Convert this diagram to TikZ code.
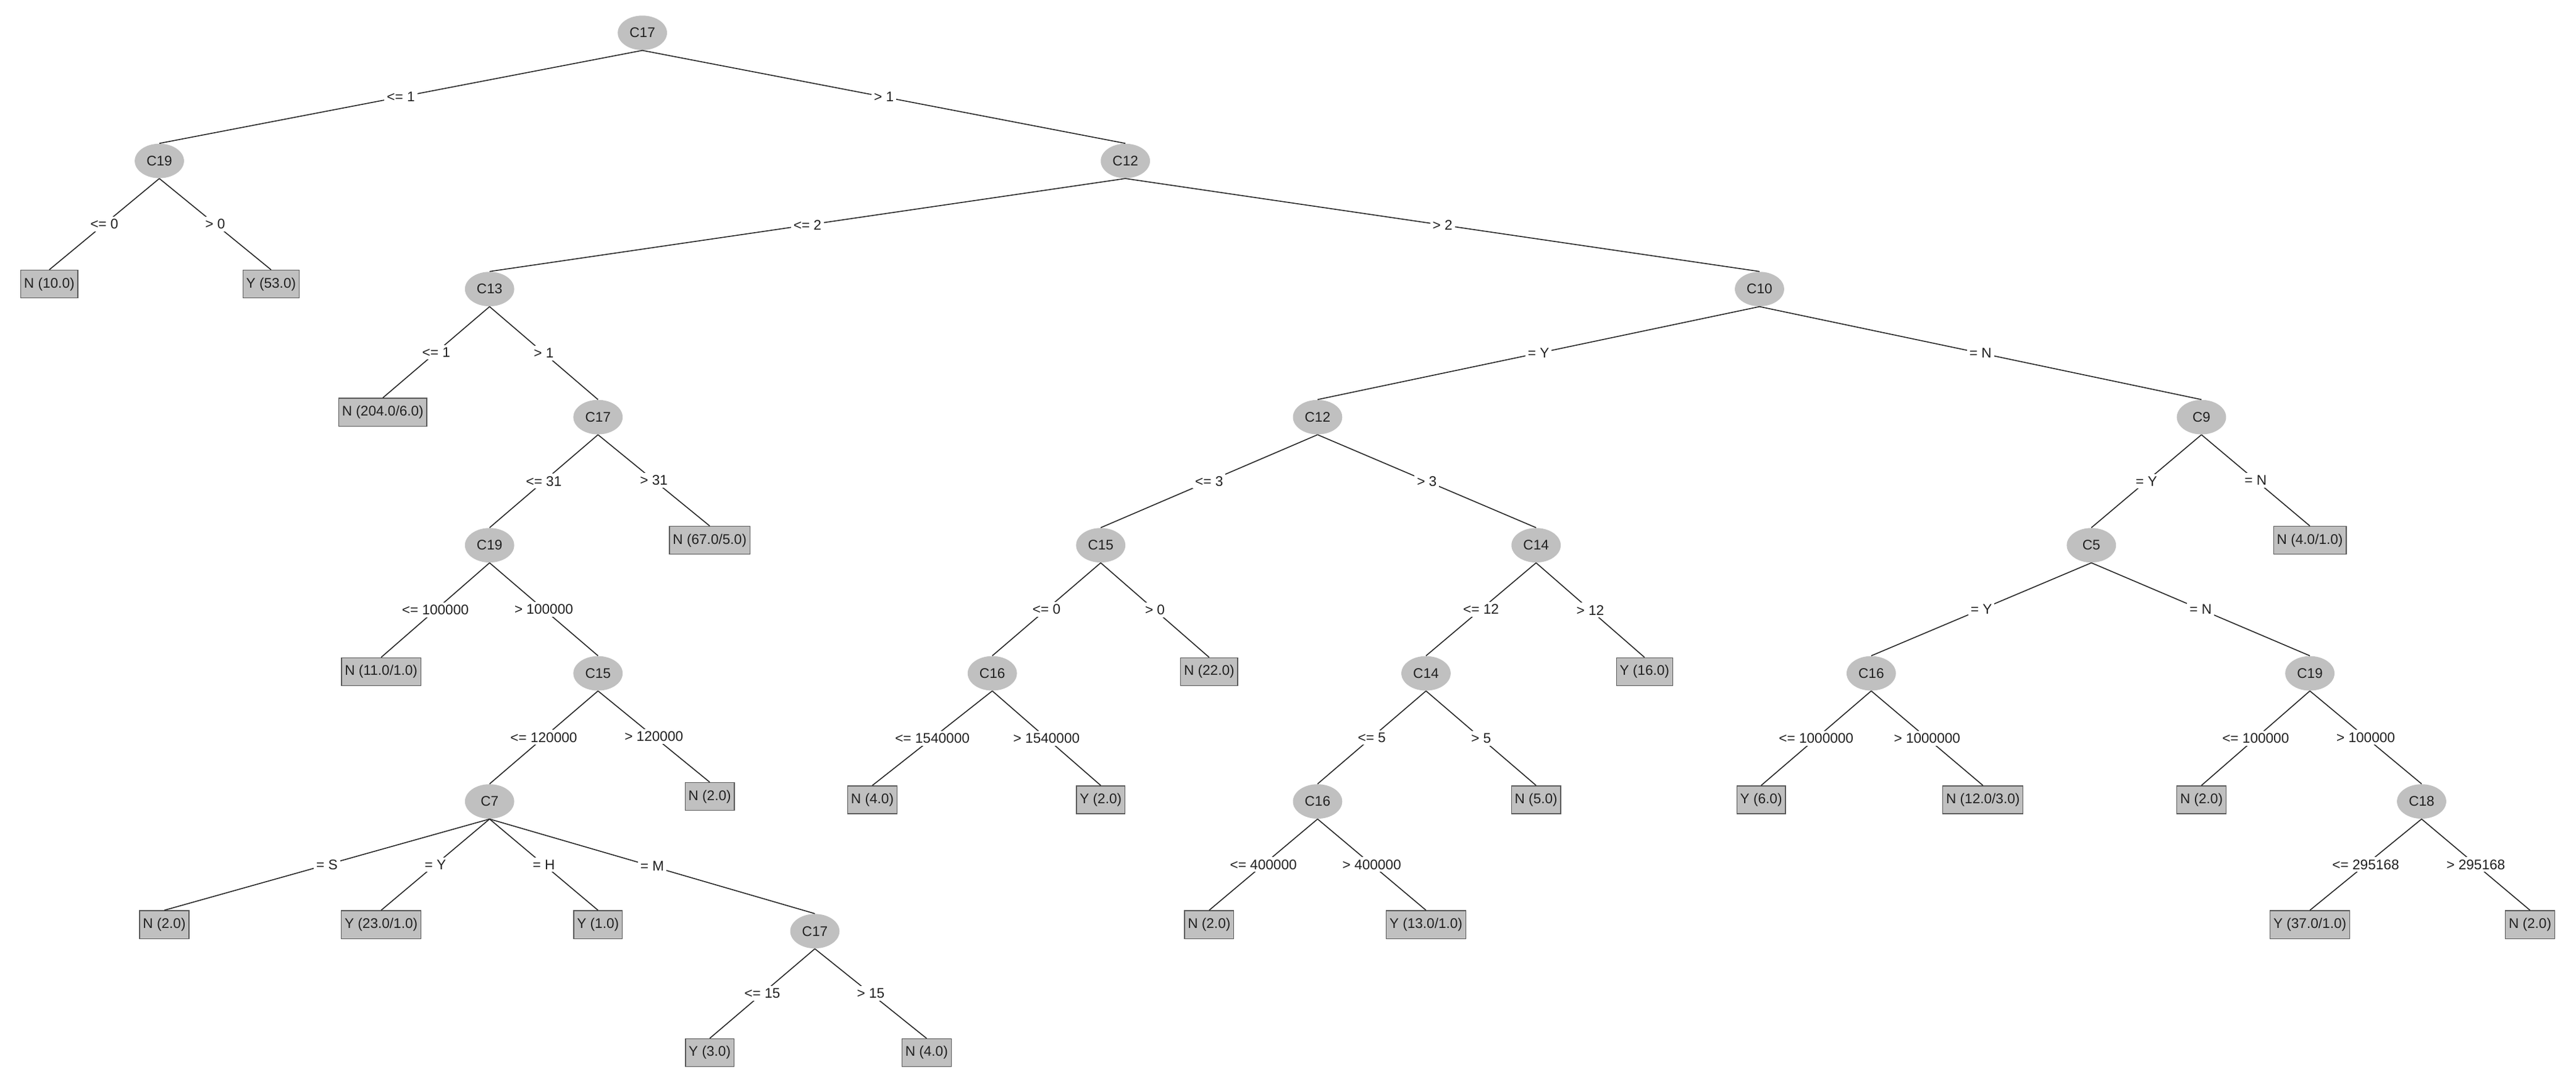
\documentclass[tikz,border=0pt]{standalone}
\usepackage{fontspec}
\setmainfont{Liberation Sans}
\usetikzlibrary{shapes.geometric}
\definecolor{ng}{HTML}{C0C0C0}
\definecolor{txt}{HTML}{202020}
\begin{document}
\begin{tikzpicture}[x=1pt,y=-1pt,
  inner/.style={ellipse,fill=ng,minimum width=30pt,minimum height=21pt,inner sep=0pt,font=\fontsize{8.5}{9}\selectfont,text=txt},
  leaf/.style={rectangle,fill=ng,draw=gray!70!black,line width=0.5pt,minimum height=17pt,inner sep=2pt,font=\fontsize{8.5}{9}\selectfont,text=txt},
  lab/.style={fill=white,inner sep=1.5pt,font=\fontsize{8.5}{9}\selectfont,text=txt,midway},
  e/.style={draw=black!85,line width=0.6pt}]
\useasboundingbox (0,0) rectangle (1568,661);
\node[inner] (r) at (391,20) {C17};
\node[inner] (a) at (97,98) {C19};
\node[leaf] (a1) at (30,173) {N (10.0)};
\node[leaf] (a2) at (165,173) {Y (53.0)};
\node[inner] (b) at (685,98) {C12};
\node[inner] (c) at (298,176) {C13};
\node[leaf] (c1) at (233,251) {N (204.0/6.0)};
\node[inner] (d) at (364,254) {C17};
\node[inner] (f) at (298,332) {C19};
\node[leaf] (d2) at (432,329) {N (67.0/5.0)};
\node[leaf] (f1) at (232,409) {N (11.0/1.0)};
\node[inner] (g) at (364,410) {C15};
\node[inner] (h) at (298,488) {C7};
\node[leaf] (g2) at (432,485) {N (2.0)};
\node[leaf] (h1) at (100,563) {N (2.0)};
\node[leaf] (h2) at (232,563) {Y (23.0/1.0)};
\node[leaf] (h3) at (364,563) {Y (1.0)};
\node[inner] (i) at (496,567) {C17};
\node[leaf] (i1) at (432,641) {Y (3.0)};
\node[leaf] (i2) at (564,641) {N (4.0)};
\node[inner] (j) at (1071,176) {C10};
\node[inner] (k) at (802,254) {C12};
\node[inner] (l) at (1340,254) {C9};
\node[inner] (m) at (670,332) {C15};
\node[inner] (n) at (935,332) {C14};
\node[inner] (o) at (604,410) {C16};
\node[leaf] (m2) at (736,409) {N (22.0)};
\node[inner] (p) at (868,410) {C14};
\node[leaf] (n2) at (1001,409) {Y (16.0)};
\node[leaf] (o1) at (531,487) {N (4.0)};
\node[leaf] (o2) at (670,487) {Y (2.0)};
\node[inner] (q) at (802,488) {C16};
\node[leaf] (p2) at (935,487) {N (5.0)};
\node[leaf] (q1) at (736,563) {N (2.0)};
\node[leaf] (q2) at (868,563) {Y (13.0/1.0)};
\node[inner] (s) at (1273,332) {C5};
\node[leaf] (l2) at (1406,329) {N (4.0/1.0)};
\node[inner] (t) at (1139,410) {C16};
\node[inner] (u) at (1406,410) {C19};
\node[leaf] (t1) at (1072,487) {Y (6.0)};
\node[leaf] (t2) at (1207,487) {N (12.0/3.0)};
\node[leaf] (u1) at (1340,487) {N (2.0)};
\node[inner] (v) at (1474,488) {C18};
\node[leaf] (v1) at (1406,563) {Y (37.0/1.0)};
\node[leaf] (v2) at (1540,563) {N (2.0)};
\foreach \p/\c/\t in {r/a/{<= 1},r/b/{> 1},a/a1/{<= 0},a/a2/{> 0},b/c/{<= 2},b/j/{> 2},
  c/c1/{<= 1},c/d/{> 1},d/f/{<= 31},d/d2/{> 31},f/f1/{<= 100000},f/g/{> 100000},
  g/h/{<= 120000},g/g2/{> 120000},h/h1/{= S},h/h2/{= Y},h/h3/{= H},h/i/{= M},
  i/i1/{<= 15},i/i2/{> 15},j/k/{= Y},j/l/{= N},k/m/{<= 3},k/n/{> 3},
  m/o/{<= 0},m/m2/{> 0},n/p/{<= 12},n/n2/{> 12},o/o1/{<= 1540000},o/o2/{> 1540000},
  p/q/{<= 5},p/p2/{> 5},q/q1/{<= 400000},q/q2/{> 400000},l/s/{= Y},l/l2/{= N},
  s/t/{= Y},s/u/{= N},t/t1/{<= 1000000},t/t2/{> 1000000},u/u1/{<= 100000},u/v/{> 100000},
  v/v1/{<= 295168},v/v2/{> 295168}}
  {\draw[e] (\p.south) -- (\c.north) node[lab] {\t};}
\end{tikzpicture}
\end{document}
